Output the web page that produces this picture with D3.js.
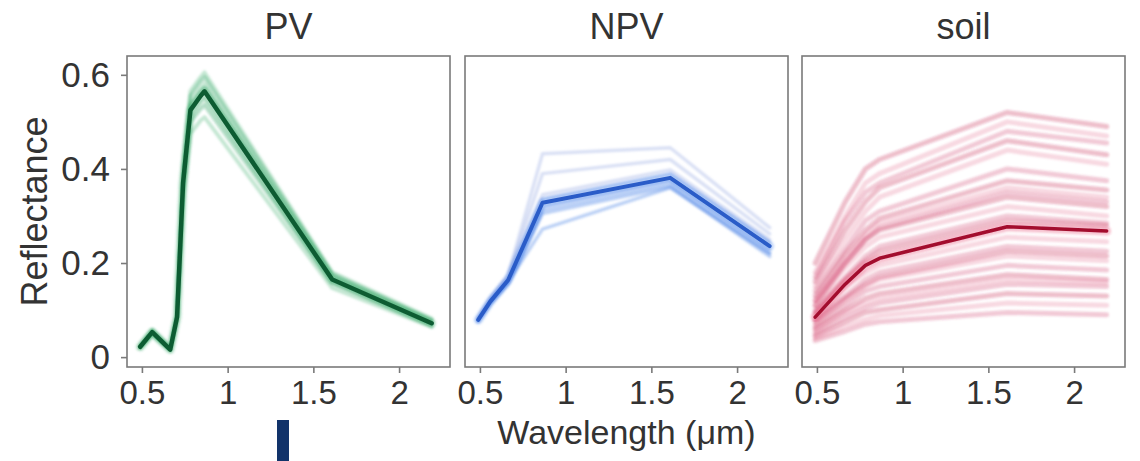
<!DOCTYPE html>
<html>
<head>
<meta charset="utf-8">
<script src="https://cdn.jsdelivr.net/npm/d3@7"></script>
<style>
  html, body { margin: 0; padding: 0; background: #fff; }
  svg { display: block; font-family: "Liberation Sans", Arial, sans-serif; }
</style>
</head>
<body>
<svg id="chart" width="1140" height="461"></svg>
<script>
// ---------- data ----------
const panelNames = ["PV", "NPV", "soil"];
const xTickValues = [0.5, 1, 1.5, 2];
const xTickLabels = ["0.5", "1", "1.5", "2"];
const yTickValues = [0, 0.2, 0.4, 0.6];
const yTickLabels = ["0", "0.2", "0.4", "0.6"];

// PV spectra (Sentinel-2 like bands)
const pvWavelengths = [0.49, 0.56, 0.665, 0.705, 0.74, 0.783, 0.842, 0.865, 1.61, 2.19];
const pvMean = [0.022, 0.053, 0.016, 0.085, 0.37, 0.525, 0.555, 0.565, 0.165, 0.072];
const pvSpectra = [
  [0.025, 0.058, 0.020, 0.090, 0.40, 0.565, 0.595, 0.605, 0.180, 0.082],
  [0.024, 0.057, 0.019, 0.089, 0.39, 0.555, 0.585, 0.595, 0.176, 0.079],
  [0.023, 0.055, 0.017, 0.087, 0.38, 0.540, 0.570, 0.580, 0.171, 0.076],
  [0.022, 0.054, 0.017, 0.086, 0.375, 0.532, 0.562, 0.572, 0.168, 0.074],
  [0.021, 0.051, 0.015, 0.083, 0.36, 0.512, 0.542, 0.550, 0.161, 0.070],
  [0.020, 0.049, 0.015, 0.080, 0.35, 0.500, 0.528, 0.536, 0.157, 0.067],
  [0.019, 0.047, 0.014, 0.078, 0.33, 0.475, 0.503, 0.510, 0.147, 0.064]
];

// NPV spectra
const npvWavelengths = [0.49, 0.56, 0.665, 0.865, 1.61, 2.19];
const npvMean = [0.079, 0.118, 0.164, 0.328, 0.381, 0.236];
const npvSpectra = [
  [0.084, 0.126, 0.175, 0.432, 0.445, 0.275],
  [0.083, 0.124, 0.172, 0.390, 0.420, 0.262],
  [0.082, 0.122, 0.168, 0.345, 0.398, 0.250],
  [0.081, 0.120, 0.166, 0.336, 0.390, 0.244],
  [0.080, 0.118, 0.163, 0.320, 0.376, 0.230],
  [0.077, 0.114, 0.158, 0.312, 0.368, 0.222],
  [0.076, 0.112, 0.155, 0.305, 0.362, 0.214],
  [0.078, 0.116, 0.160, 0.272, 0.360, 0.220]
];

// soil spectra
const soilWavelengths = [0.49, 0.665, 0.783, 0.865, 1.61, 2.19];
const soilMean = [0.085, 0.155, 0.195, 0.210, 0.277, 0.268];
const soilSpectra = [
  [0.200, 0.330, 0.400, 0.420, 0.520, 0.490],
  [0.180, 0.300, 0.370, 0.390, 0.500, 0.470],
  [0.170, 0.290, 0.350, 0.370, 0.480, 0.455],
  [0.160, 0.270, 0.330, 0.360, 0.460, 0.430],
  [0.150, 0.250, 0.310, 0.340, 0.440, 0.410],
  [0.140, 0.230, 0.290, 0.310, 0.400, 0.375],
  [0.130, 0.220, 0.270, 0.295, 0.375, 0.355],
  [0.120, 0.210, 0.260, 0.285, 0.360, 0.340],
  [0.120, 0.200, 0.250, 0.275, 0.350, 0.330],
  [0.110, 0.200, 0.250, 0.270, 0.340, 0.320],
  [0.110, 0.190, 0.235, 0.255, 0.320, 0.300],
  [0.100, 0.170, 0.215, 0.235, 0.300, 0.285],
  [0.095, 0.165, 0.205, 0.225, 0.290, 0.280],
  [0.090, 0.150, 0.180, 0.195, 0.255, 0.245],
  [0.080, 0.130, 0.165, 0.180, 0.235, 0.225],
  [0.075, 0.125, 0.155, 0.170, 0.225, 0.215],
  [0.070, 0.120, 0.150, 0.165, 0.215, 0.205],
  [0.065, 0.110, 0.140, 0.150, 0.195, 0.185],
  [0.060, 0.100, 0.125, 0.135, 0.175, 0.165],
  [0.055, 0.095, 0.115, 0.125, 0.165, 0.158],
  [0.050, 0.085, 0.105, 0.115, 0.155, 0.150],
  [0.045, 0.075, 0.095, 0.100, 0.135, 0.130],
  [0.040, 0.065, 0.080, 0.088, 0.115, 0.110],
  [0.035, 0.055, 0.070, 0.075, 0.095, 0.090]
];

// ---------- layout ----------
const svg = d3.select("#chart");
const panelLefts = [127, 465, 802];
const panelTop = 56, panelW = 323, panelH = 311;

const x = d3.scaleLinear().domain([0.413, 2.297]).range([0, panelW]);
const y = d3.scaleLinear().domain([-0.021, 0.640]).range([panelH, 0]);

const line = d3.line().x(d => x(d[0])).y(d => y(d[1]));

const defs = svg.append("defs");
defs.append("filter").attr("id", "soft").attr("x", "-5%").attr("y", "-5%").attr("width", "110%").attr("height", "110%")
  .append("feGaussianBlur").attr("stdDeviation", 0.9);
defs.append("filter").attr("id", "soft2")
  .append("feGaussianBlur").attr("stdDeviation", 0.5);

const panels = [
  { wl: pvWavelengths, mean: pvMean, spectra: pvSpectra,
    bg: (i) => i % 2 ? "rgba(40,160,95,0.35)" : "rgba(90,185,130,0.35)", bgW: 4,
    band: "rgba(50,165,100,0.25)", main: "#0d5c33", mainW: 4.5 },
  { wl: npvWavelengths, mean: npvMean, spectra: npvSpectra,
    bg: (i) => i < 3 ? "rgba(150,170,225,0.35)" : "rgba(70,125,230,0.35)", bgW: 3.5,
    band: "rgba(80,135,235,0.3)", main: "#2a5cc8", mainW: 4 },
  { wl: soilWavelengths, mean: soilMean, spectra: soilSpectra,
    bg: (i) => i % 3 === 0 ? "rgba(200,40,85,0.30)" : (i % 3 === 1 ? "rgba(225,90,130,0.24)" : "rgba(205,55,95,0.26)"), bgW: 5,
    band: "rgba(230,60,100,0.3)", main: "#a30d2e", mainW: 3.5 }
];

const tickColor = "#7a7a7a";
const textColor = "#333";
const fontFam = "Liberation Sans, Arial, sans-serif";

panels.forEach((p, k) => {
  const g = svg.append("g").attr("transform", `translate(${panelLefts[k]},${panelTop})`);

  // background spectra
  const bgG = g.append("g").attr("filter", "url(#soft)");
  p.spectra.forEach((s, i) => {
    bgG.append("path")
      .datum(p.wl.map((w, j) => [w, s[j]]))
      .attr("d", line)
      .attr("fill", "none")
      .attr("stroke", p.bg(i))
      .attr("stroke-width", p.bgW)
      .attr("stroke-linejoin", "round")
      .attr("stroke-linecap", "round");
  });

  const mainData = p.wl.map((w, j) => [w, p.mean[j]]);
  if (p.band) {
    g.append("path").datum(mainData).attr("d", line)
      .attr("fill", "none").attr("stroke", p.band).attr("stroke-width", 9)
      .attr("stroke-linejoin", "round").attr("stroke-linecap", "round")
      .attr("filter", "url(#soft)");
  }
  g.append("path").datum(mainData).attr("d", line)
    .attr("fill", "none").attr("stroke", p.main).attr("stroke-width", p.mainW)
    .attr("stroke-linejoin", "round").attr("stroke-linecap", "round")
    .attr("filter", "url(#soft2)");

  // frame
  g.append("rect").attr("x", 0).attr("y", 0).attr("width", panelW).attr("height", panelH)
    .attr("fill", "none").attr("stroke", tickColor).attr("stroke-width", 1.6);

  // x axis
  const xa = g.append("g").attr("transform", `translate(0,${panelH})`)
    .call(d3.axisBottom(x).tickValues(xTickValues)
      .tickFormat((d, i) => xTickLabels[i]).tickSize(6).tickPadding(8));
  xa.select(".domain").remove();
  xa.selectAll(".tick line").attr("stroke", tickColor).attr("stroke-width", 1.6);
  xa.selectAll(".tick text").attr("fill", textColor).attr("font-size", 33)
    .attr("font-family", fontFam);

  // y axis only on first panel
  if (k === 0) {
    const ya = g.append("g")
      .call(d3.axisLeft(y).tickValues(yTickValues)
        .tickFormat((d, i) => yTickLabels[i]).tickSize(6).tickPadding(11));
    ya.select(".domain").remove();
    ya.selectAll(".tick line").attr("stroke", tickColor).attr("stroke-width", 1.6);
    ya.selectAll(".tick text").attr("fill", textColor).attr("font-size", 35)
      .attr("font-family", fontFam);
  }

  // panel title
  svg.append("text")
    .attr("x", panelLefts[k] + panelW / 2).attr("y", 39)
    .attr("text-anchor", "middle").attr("font-size", 36).attr("fill", textColor)
    .text(panelNames[k]);
});

// axis titles
svg.append("text")
  .attr("x", panelLefts[1] + panelW / 2).attr("y", 444)
  .attr("text-anchor", "middle").attr("font-size", 34).attr("fill", textColor)
  .text("Wavelength (\u03bcm)");

svg.append("text")
  .attr("transform", `translate(47,${panelTop + panelH / 2}) rotate(-90)`)
  .attr("text-anchor", "middle").attr("font-size", 36).attr("fill", textColor)
  .text("Reflectance");

// dark blue marker bar below first panel
svg.append("rect").attr("x", 277).attr("y", 420).attr("width", 12).attr("height", 41)
  .attr("fill", "#12336a");
</script>
</body>
</html>
